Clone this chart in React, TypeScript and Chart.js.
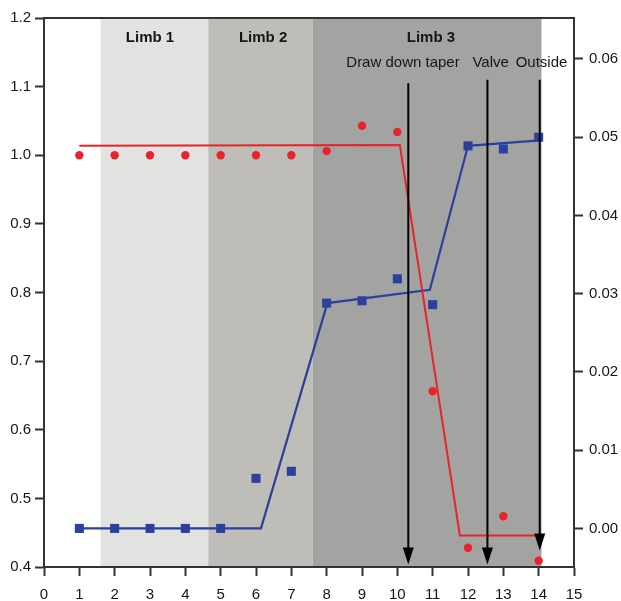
import React, { useEffect, useRef } from "react";
import { Chart, registerables } from "chart.js";

Chart.register(...registerables);

// ---- data ----
const xValues = [1, 2, 3, 4, 5, 6, 7, 8, 9, 10, 11, 12, 13, 14];
const redValues = [1.0, 1.0, 1.0, 1.0, 1.0, 1.0, 1.0, 1.006, 1.043, 1.034, 0.656, 0.428, 0.474, 0.409];
const blueValues = [0.0, 0.0, 0.0, 0.0, 0.0, 0.0064, 0.0073, 0.0288, 0.0291, 0.0319, 0.0286, 0.0489, 0.0485, 0.05];
const redFitX = [1, 10.07, 11.77, 14.03];
const redFitY = [1.014, 1.015, 0.446, 0.446];
const blueFitX = [1, 6.14, 8.02, 10.92, 12.0, 14.03];
const blueFitY = [0.0, 0.0, 0.0288, 0.0305, 0.0489, 0.0496];

const leftTicks = [0.4, 0.5, 0.6, 0.7, 0.8, 0.9, 1.0, 1.1, 1.2];
const rightTicks = [0.0, 0.01, 0.02, 0.03, 0.04, 0.05, 0.06];

const bandStart = [1.6, 4.65, 7.6];
const bandEnd = [4.65, 7.6, 14.08];
const bandLabels = ["Limb 1", "Limb 2", "Limb 3"];
const bandLabelX = [3.0, 6.2, 10.95];
const bandLabelY = 1.171;

const arrowLabels = ["Draw down taper", "Valve", "Outside"];
const arrowLabelX = [10.16, 12.64, 14.08];
const arrowLabelY = 1.134;
const arrowX = [10.31, 12.55, 14.03];
const arrowTop = [1.105, 1.11, 1.11];
const arrowTip = [0.4035, 0.4035, 0.424];

const RED = "#e8232b";
const BLUE = "#2c3f9f";
const BAND_COLORS = ["#e1e3e0", "#bebdb8", "#a3a3a1"];
const FONT = "'Liberation Sans', Arial, sans-serif";
const TEXT = "#161616";
const AXIS = "#333333";

const decorPlugin = {
  id: "decor",
  beforeDraw(chart: any) {
    const { ctx, chartArea, scales } = chart;
    const x = scales.x;
    ctx.save();
    for (let i = 0; i < bandStart.length; i++) {
      const x0 = x.getPixelForValue(bandStart[i]);
      const x1 = x.getPixelForValue(bandEnd[i]);
      ctx.fillStyle = BAND_COLORS[i];
      ctx.fillRect(x0, chartArea.top, x1 - x0, chartArea.bottom - chartArea.top);
    }
    ctx.restore();
  },
  afterDatasetsDraw(chart: any) {
    const { ctx, chartArea, scales } = chart;
    const x = scales.x;
    const y = scales.y;
    ctx.save();
    // top border
    ctx.strokeStyle = AXIS;
    ctx.lineWidth = 2;
    ctx.beginPath();
    ctx.moveTo(chartArea.left - 1, chartArea.top);
    ctx.lineTo(chartArea.right + 1, chartArea.top);
    ctx.stroke();

    // limb labels
    ctx.fillStyle = TEXT;
    ctx.textAlign = "center";
    ctx.textBaseline = "middle";
    ctx.font = "bold 15px " + FONT;
    for (let i = 0; i < bandLabels.length; i++) {
      ctx.fillText(bandLabels[i], x.getPixelForValue(bandLabelX[i]), y.getPixelForValue(bandLabelY));
    }
    ctx.font = "15px " + FONT;
    for (let i = 0; i < arrowLabels.length; i++) {
      ctx.fillText(arrowLabels[i], x.getPixelForValue(arrowLabelX[i]), y.getPixelForValue(arrowLabelY));
    }
    // arrows
    ctx.strokeStyle = "#000000";
    ctx.fillStyle = "#000000";
    ctx.lineWidth = 2;
    for (let i = 0; i < arrowX.length; i++) {
      const px = x.getPixelForValue(arrowX[i]);
      const pTop = y.getPixelForValue(arrowTop[i]);
      const pTip = y.getPixelForValue(arrowTip[i]);
      const headH = 17;
      const headW = 5.5;
      ctx.beginPath();
      ctx.moveTo(px, pTop);
      ctx.lineTo(px, pTip - headH + 2);
      ctx.stroke();
      ctx.beginPath();
      ctx.moveTo(px - headW, pTip - headH);
      ctx.lineTo(px + headW, pTip - headH);
      ctx.lineTo(px, pTip);
      ctx.closePath();
      ctx.fill();
    }
    ctx.restore();
  },
};

function toPts(xs: number[], ys: number[]) {
  return xs.map((v, i) => ({ x: v, y: ys[i] }));
}

export default function App() {
  const ref = useRef<HTMLCanvasElement | null>(null);
  useEffect(() => {
    if (!ref.current) return;
    const tickFont = { family: FONT, size: 15 };
    const chart = new Chart(ref.current, {
      type: "scatter",
      data: {
        datasets: [
          {
            label: "red fit",
            data: toPts(redFitX, redFitY),
            showLine: true,
            borderColor: RED,
            borderWidth: 2,
            pointRadius: 0,
            yAxisID: "y",
          },
          {
            label: "blue fit",
            data: toPts(blueFitX, blueFitY),
            showLine: true,
            borderColor: BLUE,
            borderWidth: 2.2,
            pointRadius: 0,
            yAxisID: "y1",
          },
          {
            label: "red",
            data: toPts(xValues, redValues),
            backgroundColor: RED,
            borderWidth: 0,
            pointRadius: 4.2,
            pointStyle: "circle",
            yAxisID: "y",
          },
          {
            label: "blue",
            data: toPts(xValues, blueValues),
            backgroundColor: BLUE,
            borderWidth: 0,
            pointRadius: 6.4,
            pointStyle: "rect",
            yAxisID: "y1",
          },
        ],
      },
      options: {
        responsive: false,
        animation: false,
        layout: { padding: { top: 18, left: 0, right: 0, bottom: 0 } },
        plugins: { legend: { display: false }, tooltip: { enabled: false } },
        scales: {
          x: {
            type: "linear",
            position: "bottom",
            min: 0,
            max: 15,
            afterBuildTicks: (s: any) => {
              s.ticks = Array.from({ length: 16 }, (_, i) => ({ value: i }));
            },
            afterFit: (s: any) => {
              s.height = 34;
            },
            ticks: { font: tickFont, color: TEXT, padding: 10, maxRotation: 0, autoSkip: false, callback: (v: any) => String(v) },
            grid: { drawOnChartArea: false, drawTicks: true, tickLength: 9, tickColor: AXIS, tickWidth: 2 },
            border: { display: true, color: AXIS, width: 2 },
          },
          y: {
            type: "linear",
            position: "left",
            min: 0.4,
            max: 1.2,
            afterBuildTicks: (s: any) => {
              s.ticks = leftTicks.map((v) => ({ value: v }));
            },
            afterFit: (s: any) => {
              s.width = 44;
            },
            ticks: { font: tickFont, color: TEXT, padding: 4, callback: (v: any) => Number(v).toFixed(1) },
            grid: { drawOnChartArea: false, drawTicks: true, tickLength: 9, tickColor: AXIS, tickWidth: 2 },
            border: { display: true, color: AXIS, width: 2 },
          },
          y1: {
            type: "linear",
            position: "right",
            min: -0.00493,
            max: 0.06524,
            afterBuildTicks: (s: any) => {
              s.ticks = rightTicks.map((v) => ({ value: v }));
            },
            afterFit: (s: any) => {
              s.width = 47;
            },
            ticks: { font: tickFont, color: TEXT, padding: 6, callback: (v: any) => Number(v).toFixed(2) },
            grid: { drawOnChartArea: false, drawTicks: true, tickLength: 9, tickColor: AXIS, tickWidth: 2 },
            border: { display: true, color: AXIS, width: 2 },
          },
        },
      },
      plugins: [decorPlugin],
    } as any);
    return () => chart.destroy();
  }, []);
  return (
    <div style={{ position: "fixed", left: 0, top: 0, width: 621, height: 601, background: "#ffffff" }}>
      <canvas ref={ref} width={621} height={601} style={{ display: "block", width: 621, height: 601 }} />
    </div>
  );
}
